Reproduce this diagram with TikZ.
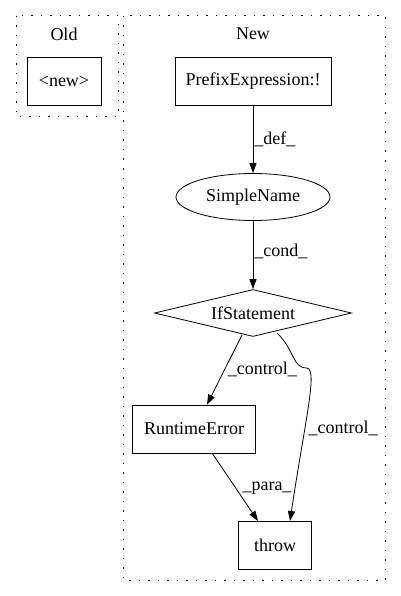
\documentclass[tikz,border=0pt]{standalone}
\usepackage{fontspec}
\setmainfont{Liberation Serif}
\usetikzlibrary{arrows.meta,shapes.geometric}
\begin{document}
\begin{tikzpicture}[x=1pt,y=-1pt,
  font=\fontsize{18}{20}\selectfont,
  cluster/.style={draw, line width=1pt, dash pattern=on 1.5pt off 8pt},
  boxnode/.style={draw, line width=0.8pt, minimum width=#1, minimum height=48pt, inner sep=0pt},
  edge/.style={draw, line width=0.8pt, -{Triangle[length=10pt,width=7pt]}},
  elabel/.style={inner sep=1pt}
]
\useasboundingbox (0,0) rectangle (400,596);
% clusters
\draw[cluster] (16,16) rectangle (118,117);
\node at (64,34) {Old};
\draw[cluster] (123,16) rectangle (385,580);
\node at (253,34) {New};
% nodes
\node[boxnode=74pt] (new) at (64,81) {<new>};
\node[boxnode=156pt] (pref) at (253,81) {PrefixExpression:!};
\node[draw, line width=0.8pt, ellipse, minimum width=154pt, minimum height=47pt, inner sep=0pt] (simple) at (253,197) {SimpleName};
\node[draw, line width=0.8pt, diamond, aspect=4.2, minimum width=197pt, minimum height=47pt, inner sep=0pt] (ifs) at (253,313) {IfStatement};
\node[boxnode=123pt] (rte) at (194,429) {RuntimeError};
\node[boxnode=73pt] (throw) at (275,545) {throw};
% edges
\draw[edge] (pref) -- node[elabel, right, pos=0.5] {\_def\_} (simple);
\draw[edge] (simple) -- node[elabel, right, pos=0.45] {\_cond\_} (ifs);
\draw[edge] (242,335) -- node[elabel, right, pos=0.5, xshift=2pt] {\_control\_} (rte.north -| 207,0);
\draw[edge] (277,333) .. controls (295,350) and (292,368) .. (307,368)
  .. controls (318,370) and (305,420) .. (290,521);
\node[elabel] at (343,428) {\_control\_};
\draw[edge] (212,453) -- (258,521);
\node[elabel] at (267,488) {\_para\_};
\end{tikzpicture}
\end{document}
